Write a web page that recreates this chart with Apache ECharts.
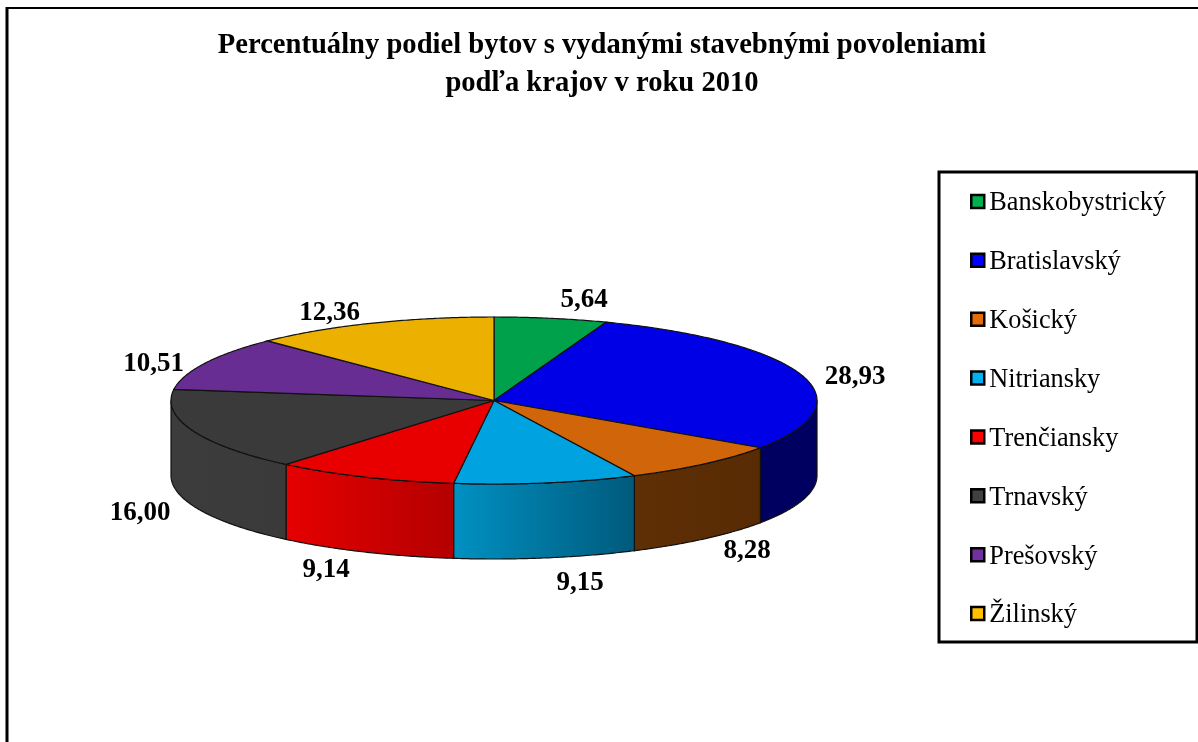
<!DOCTYPE html>
<html><head><meta charset="utf-8">
<style>html,body{margin:0;padding:0;background:#fff}#c{width:1198px;height:742px}</style>
<script src="https://cdn.jsdelivr.net/npm/echarts@6/dist/echarts.min.js"></script>
</head><body><div id="c"></div>
<script>
const titleLines = ['Percentuálny podiel bytov s vydanými stavebnými povoleniami', 'podľa krajov v roku 2010'];
const regions = ['Banskobystrický','Bratislavský','Košický','Nitriansky','Trenčiansky','Trnavský','Prešovský','Žilinský'];
const shares = [5.64,28.93,8.28,9.15,9.14,16.00,10.51,12.36];
const shareLabels = ['5,64','28,93','8,28','9,15','9,14','16,00','10,51','12,36'];
const legendColors = ['#00B050','#0000FF','#E46C0A','#00B0F0','#FF0000','#404040','#7030A0','#FFC000'];
const topColors = ['#00A14B','#0000E6','#D0650A','#00A3E0','#E80000','#3A3A3A','#682D92','#EBB000'];
const wallFrom = ['#005a2a','#000060','#5F2F05','#0091C2','#E60000','#3C3C3C','#3c1a55','#8a6700'];
const wallTo   = ['#005a2a','#000060','#582B04','#005A7C','#B40000','#3A3A3A','#3c1a55','#8a6700'];
const labelCentres = [[584,300.5],[855,377.5],[747,551],[580,583.5],[326,570.5],[140,513.5],[153.5,364],[329.5,313.5]];

const cx = 494, cy = 400.5, rx = 323, ry = 83.5, depth = 75;
const total = shares.reduce((a,b)=>a+b,0);
const rim = (deg, dy) => { const r = deg*Math.PI/180; return [cx+rx*Math.sin(r), cy-ry*Math.cos(r)+(dy||0)]; };
const arc = (a,b,dy) => { const p=[]; const n=Math.max(2,Math.ceil(Math.abs(b-a)*2));
  for(let i=0;i<=n;i++) p.push(rim(a+(b-a)*i/n,dy)); return p; };

const series = regions.map((name,idx)=>({
  type:'custom', name, coordinateSystem:'none', silent:true,
  itemStyle:{color:legendColors[idx]},
  data:[[shares[idx], shares.slice(0,idx).reduce((a,b)=>a+b,0)]],
  renderItem(params, api){
    const a0 = api.value(1)/total*360, a1 = a0 + api.value(0)/total*360;
    const children = [];
    const w0 = Math.max(a0,90), w1 = Math.min(a1,270);
    if (w1 > w0) {
      children.push({type:'polygon',
        shape:{points:arc(w0,w1,0).concat(arc(w1,w0,depth))},
        style:{fill:{type:'linear',x:0,y:0,x2:1,y2:0,colorStops:[{offset:0,color:wallFrom[idx]},{offset:1,color:wallTo[idx]}]},
          stroke:'#111',lineWidth:1.2}});
    }
    children.push({type:'polygon',
      shape:{points:[[cx,cy]].concat(arc(a0,a1,0))},
      style:{fill:topColors[idx],stroke:'#111',lineWidth:1.2}});
    children.push({type:'text',
      style:{x:labelCentres[idx][0],y:labelCentres[idx][1],text:shareLabels[idx],
        font:'bold 27px "Liberation Serif"',fill:'#000',textAlign:'center',textVerticalAlign:'middle'}});
    return {type:'group',children};
  }
}));

const chart = echarts.init(document.getElementById('c'),null,{renderer:'canvas'});
chart.setOption({
  animation:false, backgroundColor:'#fff',
  title:{text:titleLines.join('\n'),left:602,top:27,textAlign:'center',padding:0,
    textStyle:{fontFamily:'Liberation Serif',fontWeight:'bold',fontSize:28.6,lineHeight:38,color:'#000'}},
  legend:{orient:'vertical',left:939,top:172,
    padding:[14.5,31,13.5,31],itemWidth:13,itemHeight:13,itemGap:28.86,
    backgroundColor:'#fff',borderColor:'#000',borderWidth:3,
    formatter:n=>'{a|'+n+'}',
    textStyle:{fontFamily:'Liberation Serif',fontSize:26.3,color:'#000',
      rich:{a:{fontFamily:'Liberation Serif',fontSize:26.3,color:'#000',lineHeight:26,padding:[4,0,0,0]}}},
    data:regions.map((name,i)=>({name,icon:'rect',itemStyle:{color:legendColors[i],borderColor:'#000',borderWidth:2.5}}))},
  graphic:[
    {type:'line',shape:{x1:7,y1:8,x2:1198,y2:8},style:{stroke:'#000',lineWidth:2}},
    {type:'line',shape:{x1:7,y1:7,x2:7,y2:742},style:{stroke:'#000',lineWidth:3}}
  ],
  series
});
</script></body></html>
